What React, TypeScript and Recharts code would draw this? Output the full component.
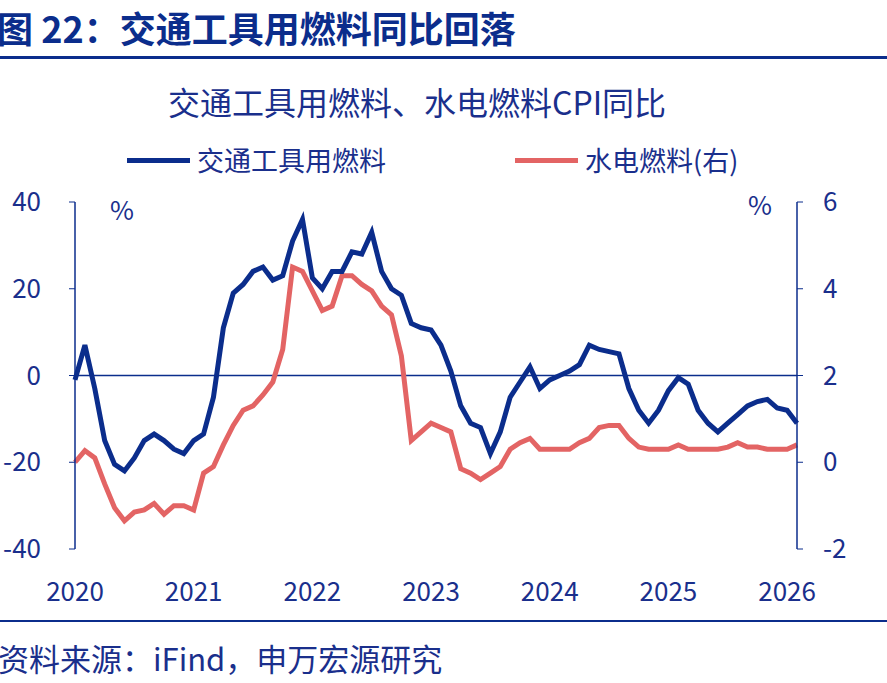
import React from 'react';
import { ComposedChart, Line, XAxis, YAxis, ReferenceLine } from 'recharts';

const years = ['2020', '2021', '2022', '2023', '2024', '2025', '2026'];
const fuel = [-1, 7, -3, -15, -20.5, -22, -19, -15, -13.5, -15, -17, -18,
  -15, -13.5, -5, 11, 19, 21, 24, 25, 22, 23, 31, 36,
  22.5, 20, 24, 24, 28.5, 28, 33, 24, 20, 18.5, 12, 11,
  10.5, 7, 1, -7, -11, -12, -18, -13, -5, -1.5, 2, -3,
  -1, 0, 1, 2.5, 7, 6, 5.5, 5, -3, -8, -11, -8,
  -3.5, -0.5, -2, -8, -11, -13, -11, -9, -7, -6, -5.5, -7.5,
  -8, -11];
const power = [0, 0.27, 0.1, -0.5, -1.05, -1.35, -1.15, -1.1, -0.95, -1.2, -1, -1,
  -1.1, -0.25, -0.1, 0.4, 0.85, 1.2, 1.3, 1.55, 1.85, 2.6, 4.5, 4.4,
  3.95, 3.5, 3.6, 4.3, 4.3, 4.1, 3.95, 3.6, 3.4, 2.45, 0.5, 0.7,
  0.9, 0.8, 0.7, -0.15, -0.25, -0.4, -0.25, -0.1, 0.3, 0.45, 0.55, 0.3,
  0.3, 0.3, 0.3, 0.45, 0.55, 0.8, 0.85, 0.85, 0.55, 0.35, 0.3, 0.3,
  0.3, 0.4, 0.3, 0.3, 0.3, 0.3, 0.35, 0.45, 0.35, 0.35, 0.3, 0.3,
  0.3, 0.4];
const leftTicks = [-40, -20, 0, 20, 40];
const rightTicks = [-2, 0, 2, 4, 6];

const data = fuel.map((v, i) => ({ i, fuel: v, power: power[i] }));
const BLUE = '#0b2d8c';
const RED = '#e36464';
const TXT = '#1a2f8c';
const font = '"Noto Sans CJK SC", "Noto Sans", sans-serif';

export default function App() {
  return (
    <div style={{ position: 'absolute', left: 0, top: 0, width: 887, height: 683, background: '#fff', fontFamily: font, overflow: 'hidden' }}>
      <div style={{ position: 'absolute', left: -3, top: 5, fontSize: 36, lineHeight: '44px', fontWeight: 700, color: BLUE, whiteSpace: 'nowrap' }}>图 22：交通工具用燃料同比回落</div>
      <div style={{ position: 'absolute', left: 0, top: 56, width: 887, height: 3, background: BLUE }} />
      <div style={{ position: 'absolute', left: 168, top: 80, fontSize: 32, lineHeight: '42px', color: TXT, whiteSpace: 'nowrap' }}>交通工具用燃料、水电燃料CPI同比</div>
      <div style={{ position: 'absolute', left: 127, top: 158, width: 63, height: 5, background: BLUE }} />
      <div style={{ position: 'absolute', left: 197, top: 142, fontSize: 27, lineHeight: '36px', color: TXT, whiteSpace: 'nowrap' }}>交通工具用燃料</div>
      <div style={{ position: 'absolute', left: 515, top: 158, width: 63, height: 5, background: RED }} />
      <div style={{ position: 'absolute', left: 585, top: 142, fontSize: 27, lineHeight: '36px', color: TXT, whiteSpace: 'nowrap' }}>水电燃料(右)</div>
      <div style={{ position: 'absolute', left: 110, top: 190, fontSize: 26, color: TXT }}>%</div>
      <div style={{ position: 'absolute', left: 748, top: 185, fontSize: 26, color: TXT }}>%</div>
      <div style={{ position: 'absolute', left: 0, top: 0 }}>
        <ComposedChart width={887} height={683} data={data} margin={{ top: 202, right: 0, bottom: 104, left: 0 }}>
          <XAxis dataKey="i" type="number" domain={[0, 73]} ticks={[0, 12, 24, 36, 48, 60, 72]}
            tickFormatter={(v: number) => years[v / 12]} axisLine={false} tickLine={false} tickMargin={28}
            tick={{ fill: TXT, fontSize: 26, fontFamily: font }} />
          <YAxis yAxisId="l" width={75} domain={[-40, 40]} ticks={leftTicks} tickSize={6} tickMargin={28}
            axisLine={{ stroke: BLUE, strokeWidth: 1.5 }} tickLine={{ stroke: BLUE }}
            tick={{ fill: TXT, fontSize: 26, fontFamily: font }} />
          <YAxis yAxisId="r" orientation="right" width={90} domain={[-2, 6]} ticks={rightTicks} tickSize={6} tickMargin={20}
            axisLine={{ stroke: BLUE, strokeWidth: 1.5 }} tickLine={{ stroke: BLUE }}
            tick={{ fill: TXT, fontSize: 26, fontFamily: font }} />
          <ReferenceLine yAxisId="l" y={0} stroke={BLUE} strokeWidth={1.5} />
          <Line yAxisId="r" dataKey="power" stroke={RED} strokeWidth={5} dot={false} isAnimationActive={false} />
          <Line yAxisId="l" dataKey="fuel" stroke={BLUE} strokeWidth={5} dot={false} isAnimationActive={false} />
        </ComposedChart>
      </div>
      <div style={{ position: 'absolute', left: 0, top: 620, width: 887, height: 2, background: BLUE }} />
      <div style={{ position: 'absolute', left: -2, top: 638, fontSize: 31, lineHeight: '40px', color: TXT, whiteSpace: 'nowrap' }}>资料来源：iFind，申万宏源研究</div>
    </div>
  );
}
